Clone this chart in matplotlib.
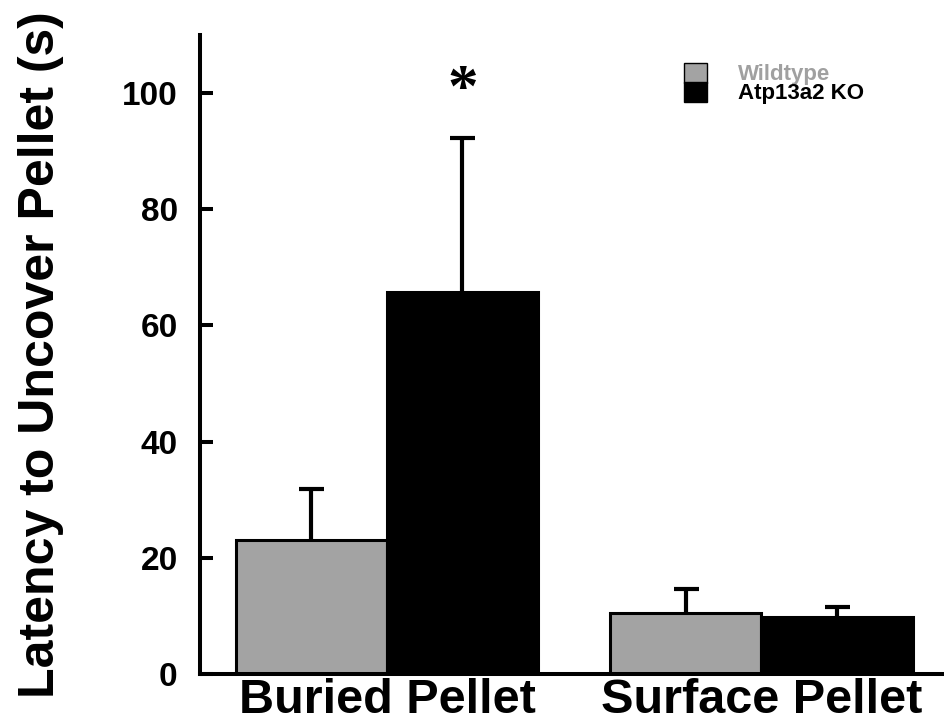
import numpy as np
import matplotlib.pyplot as plt
from matplotlib.patches import Patch

# data
groups = ["Buried Pellet", "Surface Pellet"]
wildtype = [23.1, 10.5]
wildtype_err = [8.8, 4.2]
knockout = [65.7, 9.8]
knockout_err = [26.5, 1.7]
series_names = ["Wildtype", "Atp13a2 KO"]

plt.rcParams['font.family'] = ['Liberation Sans', 'DejaVu Sans']
plt.rcParams['font.weight'] = 'bold'

fig = plt.figure(figsize=(9.45, 7.23), dpi=100)
ax = fig.add_axes([0.2116, 0.0678, 0.7884, 0.8838])

x = np.array([0, 2.48])
w = 1.0
err_kw = dict(elinewidth=3, capsize=9, capthick=3, ecolor='black')
b1 = ax.bar(x - w/2, wildtype, w, yerr=[np.zeros(2), wildtype_err], color='#a3a3a3',
            edgecolor='black', linewidth=2.2, error_kw=err_kw, zorder=2)
b2 = ax.bar(x + w/2, knockout, w, yerr=[np.zeros(2), knockout_err], color='black',
            edgecolor='black', linewidth=2.2, error_kw=err_kw, zorder=2)
# only the upper caps are drawn in the original
for b in (b1, b2):
    b.errorbar.lines[1][0].set_visible(False)

# significance mark
ax.text(x[0] + w/2, knockout[0] + knockout_err[0] + 8.1, "*", ha='center', va='center',
        fontsize=44, family='Liberation Serif', fontweight='bold')

ax.set_xlim(-1.238, 3.695)
ax.set_ylim(0, 110)
ax.set_yticks([0, 20, 40, 60, 80, 100])
ax.set_xticks(x)
ax.set_xticklabels(groups, fontsize=35, fontweight='bold')
ax.tick_params(axis='x', length=0, pad=3)
ax.tick_params(axis='y', direction='in', length=9, width=2.9, labelsize=24, pad=16)
for lab in ax.get_yticklabels():
    lab.set_fontweight('bold')

for s in ['top', 'right']:
    ax.spines[s].set_visible(False)
for s in ['left', 'bottom']:
    ax.spines[s].set_linewidth(2.9)

ax.set_ylabel("Latency to Uncover Pellet (s)", fontsize=36, fontweight='bold', labelpad=42)

handles = [Patch(facecolor='#a3a3a3', edgecolor='black', linewidth=1),
           Patch(facecolor='black', edgecolor='black', linewidth=1)]
ax.legend(handles, series_names, loc='upper left', bbox_to_anchor=(0.635, 0.974),
          frameon=False, prop={'weight': 'bold', 'size': 16},
          handlelength=1.04, handleheight=1.0, labelspacing=-0.15, handletextpad=1.4,
          labelcolor=['#a0a0a0', 'black'], borderpad=0)

fig.savefig("out.png", dpi=100)
